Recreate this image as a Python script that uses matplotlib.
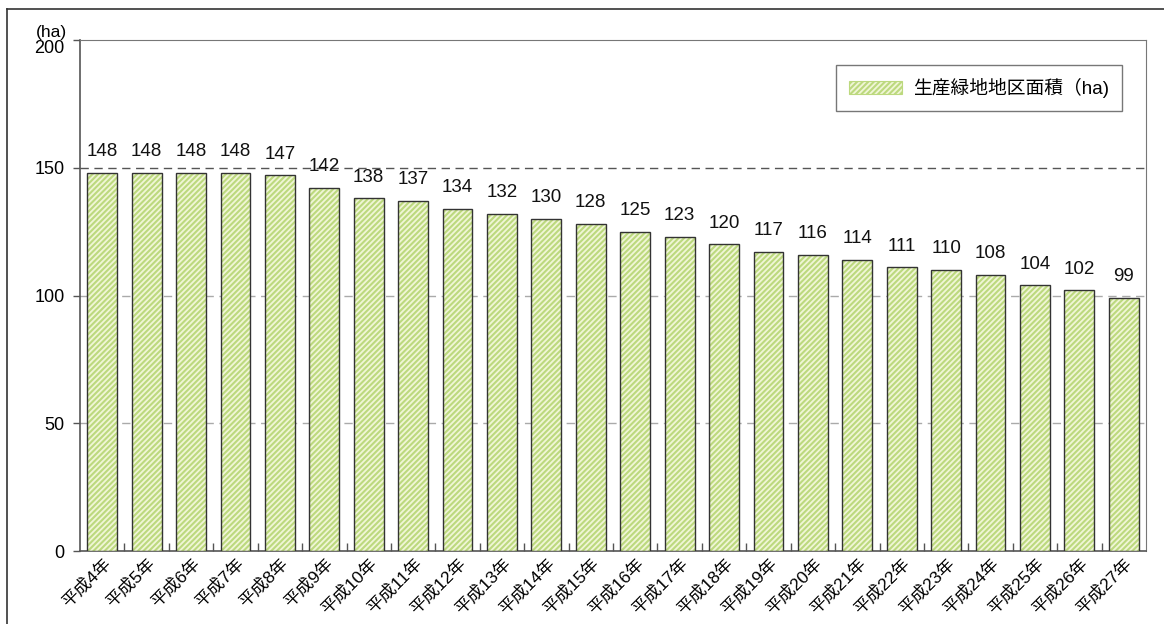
import matplotlib
matplotlib.use("Agg")
import matplotlib.pyplot as plt
from matplotlib.lines import Line2D
from matplotlib.patches import Patch

plt.rcParams['font.family'] = ['Liberation Sans', 'Noto Sans CJK JP', 'DejaVu Sans']
plt.rcParams['hatch.linewidth'] = 1.5

categories = [f"平成{n}年" for n in range(4, 28)]
areas = [148, 148, 148, 148, 147, 142, 138, 137, 134, 132, 130, 128,
         125, 123, 120, 117, 116, 114, 111, 110, 108, 104, 102, 99]
y_ticks = [0, 50, 100, 150, 200]
series_name = "生産緑地地区面積（ha)"
unit_label = "(ha)"

FILL = '#f0f6d6'
HATCH = '#bcd97e'

W, H = 1164, 624
fig = plt.figure(figsize=(W / 100, H / 100), dpi=100)

# outer frame (top and left edges)
fig.add_artist(Line2D([7 / W, 1.0], [1 - 9 / H, 1 - 9 / H], color='#333333', lw=1.2))
fig.add_artist(Line2D([7 / W, 7 / W], [1 - 9 / H, 0.0], color='#333333', lw=1.2))

ax = fig.add_axes([80 / W, 1 - 551 / H, (1146 - 80) / W, (551 - 40) / H])

x = list(range(len(categories)))
# hatched fill, then dark outline on top
ax.bar(x, areas, width=0.67, color=FILL, edgecolor=HATCH, linewidth=0,
       hatch='//////', zorder=3)
ax.bar(x, areas, width=0.67, fill=False, edgecolor='#333333', linewidth=1.0, zorder=4)

for xi, v in zip(x, areas):
    ax.text(xi, v + 5, f"{v}", ha='center', va='bottom', fontsize=13.5, color='#111111')

ax.set_xlim(-0.5, len(categories) - 0.5)
ax.set_ylim(0, 200)
ax.set_yticks(y_ticks)
ax.set_yticklabels([str(t) for t in y_ticks], fontsize=13)
ax.tick_params(axis='y', direction='out', length=5, width=1, color='#555555', pad=6)
ax.get_yticklabels()[-1].set_va('top')

# category boundaries ticks on x axis
ax.set_xticks([i + 0.5 for i in x[:-1]], minor=True)
ax.set_xticks(x)
ax.set_xticklabels(categories, rotation=45, ha='right', va='top',
                   rotation_mode='anchor', fontsize=12.5)
ax.tick_params(axis='x', which='major', length=0, pad=3)
ax.tick_params(axis='x', which='minor', direction='in', length=6, width=1, color='#555555')

for g in (50, 100):
    ax.axhline(g, color='#aaaaaa', lw=1.0, ls=(0, (6, 4)), zorder=1)
ax.axhline(150, color='#555555', lw=1.0, ls=(0, (6, 4)), zorder=1)

for side in ('top', 'right'):
    ax.spines[side].set_color('#777777')
for side in ('left', 'bottom'):
    ax.spines[side].set_color('#555555')
    ax.spines[side].set_linewidth(1.2)

fig.text(51 / W, 1 - 33 / H, unit_label, ha='center', va='center', fontsize=12.5)

handle = Patch(facecolor=FILL, edgecolor=HATCH, hatch='//////', lw=0.8)
leg = ax.legend([handle], [series_name], loc='upper right',
                bbox_to_anchor=((1122 - 80) / (1146 - 80), 1 - (65 - 40) / (551 - 40)),
                fontsize=13.5, frameon=True, fancybox=False, edgecolor='#555555',
                handlelength=2.8, handleheight=0.65, handletextpad=0.6,
                borderpad=0.7, borderaxespad=0)
leg.get_frame().set_linewidth(1.0)

fig.savefig("out.png", dpi=100)
